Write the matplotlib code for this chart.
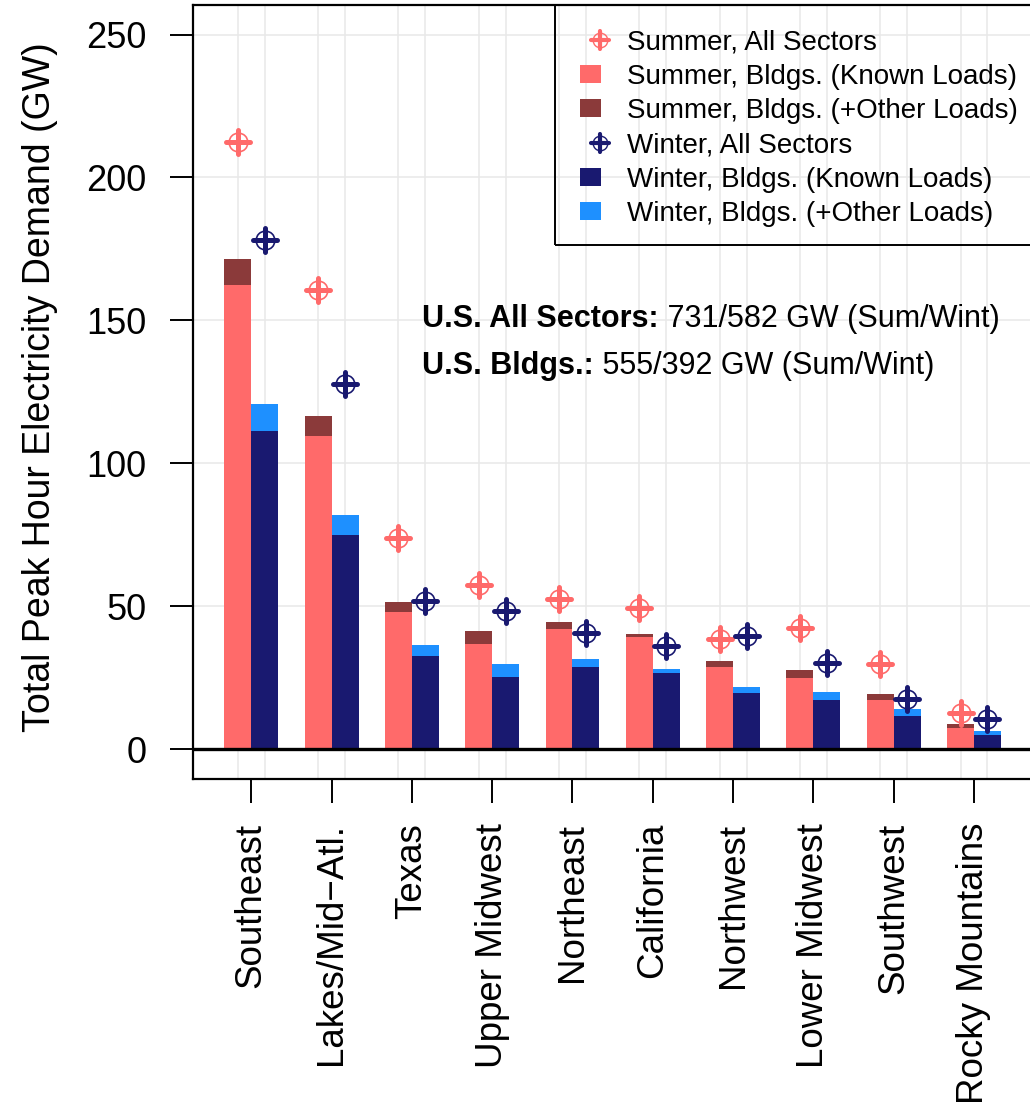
import matplotlib
matplotlib.use("Agg")
import matplotlib.pyplot as plt
import numpy as np
from matplotlib.lines import Line2D
from matplotlib.patches import Rectangle
from matplotlib.markers import MarkerStyle
from matplotlib.legend_handler import HandlerBase

plt.rcParams["font.family"] = ["Liberation Sans", "DejaVu Sans"]

# Regions ordered by summer peak demand
regions = ["Southeast", "Lakes/Mid\u2212Atl.", "Texas", "Upper Midwest", "Northeast",
           "California", "Northwest", "Lower Midwest", "Southwest", "Rocky Mountains"]

# Peak hour demand (GW)
summer_all = [212.4, 160.5, 73.9, 57.5, 52.6, 49.5, 38.6, 42.2, 29.9, 12.7]
winter_all = [178.0, 127.7, 51.7, 48.4, 40.5, 36.1, 39.7, 30.0, 17.5, 10.6]
summer_known = [162.2, 109.6, 47.8, 36.8, 42.0, 39.2, 28.7, 24.9, 17.2, 7.4]
summer_bldg_total = [171.6, 116.6, 51.5, 41.3, 44.5, 40.3, 30.8, 27.7, 19.3, 8.8]
winter_known = [111.3, 75.0, 32.6, 25.2, 28.7, 26.6, 19.6, 17.2, 11.6, 4.9]
winter_bldg_total = [120.8, 82.0, 36.4, 29.8, 31.5, 28.0, 21.7, 20.0, 14.0, 6.3]

yticks = [0, 50, 100, 150, 200, 250]

C_SUM = "#FF6A6A"
C_SUM_OTHER = "#8B3A3A"
C_WIN = "#191970"
C_WIN_OTHER = "#1E90FF"

x = np.arange(1, len(regions) + 1)
w = 0.336
xs = x - w / 2
xw = x + w / 2
summer_other = np.array(summer_bldg_total) - np.array(summer_known)
winter_other = np.array(winter_bldg_total) - np.array(winter_known)

FW, FH = 1030, 1109
AX_L, AX_R, AX_T, AX_B = 193, 1034, 4.5, 778.5
fig = plt.figure(figsize=(FW / 100, FH / 100), dpi=100)
ax = fig.add_axes([AX_L / FW, 1 - AX_B / FH, (AX_R - AX_L) / FW, (AX_B - AX_T) / FH])

ax.bar(xs, summer_known, w, color=C_SUM, edgecolor="none", zorder=2)
ax.bar(xs, summer_other, w, bottom=summer_known, color=C_SUM_OTHER, edgecolor="none", zorder=2)
ax.bar(xw, winter_known, w, color=C_WIN, edgecolor="none", zorder=2)
ax.bar(xw, winter_other, w, bottom=winter_known, color=C_WIN_OTHER, edgecolor="none", zorder=2)

plus = MarkerStyle("+", capstyle="round")


def crosshair(xv, yv, color, ms_plus, mew_plus, ms_circ, mew_circ, draw=True):
    c = Line2D(xv, yv, linestyle="none", marker="o", markersize=ms_circ,
               markerfacecolor="none", markeredgecolor=color, markeredgewidth=mew_circ, zorder=4)
    p = Line2D(xv, yv, linestyle="none", marker=plus, markersize=ms_plus,
               markeredgecolor=color, markeredgewidth=mew_plus, zorder=4)
    if draw:
        ax.add_line(c)
        ax.add_line(p)
    return c, p


crosshair(xs, summer_all, C_SUM, 17.5, 3.6, 13.5, 1.2)
crosshair(xw, winter_all, C_WIN, 17.5, 3.6, 13.5, 1.2)

ax.axhline(0, color="black", lw=2.4, zorder=5)

ax.set_xlim(0.274, 0.274 + (AX_R - AX_L) / 80.3)
ax.set_ylim(-10.3, 260.5)

ax.set_xticks(x)
ax.set_xticklabels(regions, rotation=90, fontsize=26.5)
ax.set_xticks(np.concatenate([xs, xw]), minor=True)
ax.set_yticks(yticks)
ax.set_yticklabels([str(v) for v in yticks], fontsize=26)

ax.tick_params(axis="x", which="major", length=17, width=1.4, pad=15, color="black")
ax.tick_params(axis="x", which="minor", length=0)
ax.tick_params(axis="y", which="major", length=16.5, width=1.4, pad=17, color="black")

ax.grid(which="minor", axis="x", color="#E8E8E8", lw=1.1)
ax.grid(which="major", axis="y", color="#E8E8E8", lw=1.1)
ax.set_axisbelow(True)

for s in ax.spines.values():
    s.set_linewidth(1.6)
    s.set_color("black")

fig.text(40 / FW, 1 - 387.5 / FH, "Total Peak Hour Electricity Demand (GW)",
         rotation=90, ha="center", va="center", fontsize=27)

# Totals across all regions
t1 = ax.text(3.126, 150.6, "U.S. All Sectors:", fontsize=22, fontweight="bold", va="center")
ax.annotate(" 731/582 GW (Sum/Wint)", xy=(1, 0), xycoords=t1, va="bottom", ha="left", fontsize=22)
t2 = ax.text(3.126, 134.0, "U.S. Bldgs.:", fontsize=22, fontweight="bold", va="center")
ax.annotate(" 555/392 GW (Sum/Wint)", xy=(1, 0), xycoords=t2, va="bottom", ha="left", fontsize=22)


class SquareHandler(HandlerBase):
    def create_artists(self, legend, orig_handle, xdescent, ydescent, width, height, fontsize, trans):
        sw, sh = 15.0, 13.0
        r = Rectangle((-xdescent, -ydescent + (height - sh) / 2), sw, sh,
                      facecolor=orig_handle.get_facecolor(), edgecolor="none", transform=trans)
        return [r]


class MarkerHandler(HandlerBase):
    def __init__(self, xoff):
        super().__init__()
        self.xoff = xoff

    def create_artists(self, legend, orig_handle, xdescent, ydescent, width, height, fontsize, trans):
        arts = []
        for h in orig_handle:
            ln = Line2D([-xdescent + self.xoff], [-ydescent + height / 2])
            ln.update_from(h)
            ln.set_linestyle("none")
            ln.set_transform(trans)
            arts.append(ln)
        return arts


h_sum = crosshair([0], [0], C_SUM, 13.5, 3.0, 10.5, 1.0, draw=False)
h_win = crosshair([0], [0], C_WIN, 13.5, 3.0, 10.5, 1.0, draw=False)
handles = [h_sum,
           Rectangle((0, 0), 1, 1, facecolor=C_SUM),
           Rectangle((0, 0), 1, 1, facecolor=C_SUM_OTHER),
           h_win,
           Rectangle((0, 0), 1, 1, facecolor=C_WIN),
           Rectangle((0, 0), 1, 1, facecolor=C_WIN_OTHER)]
labels = ["Summer, All Sectors", "Summer, Bldgs. (Known Loads)", "Summer, Bldgs. (+Other Loads)",
          "Winter, All Sectors", "Winter, Bldgs. (Known Loads)", "Winter, Bldgs. (+Other Loads)"]

ax_w = AX_R - AX_L
ax_h = AX_B - AX_T
# Legend box outline, anchored to the top-right corner of the plot frame
box_x0 = (555 - AX_L) / ax_w
box_y0 = (AX_B - 245) / ax_h
ax.add_patch(Rectangle((box_x0, box_y0), 1 - box_x0, 1 - box_y0, transform=ax.transAxes,
                       facecolor="none", edgecolor="black", lw=1.4, zorder=6, clip_on=False))

leg = ax.legend(handles, labels, loc="upper right",
                bbox_to_anchor=((1018 - AX_L) / ax_w, (AX_B - 29.5) / ax_h),
                borderaxespad=0, borderpad=0, frameon=False,
                fontsize=20, handlelength=1.2, handletextpad=0.49, labelspacing=0.3,
                handler_map={tuple: MarkerHandler(14.4), Rectangle: SquareHandler()})
leg.set_zorder(6)

fig.savefig("out.png", dpi=100)
